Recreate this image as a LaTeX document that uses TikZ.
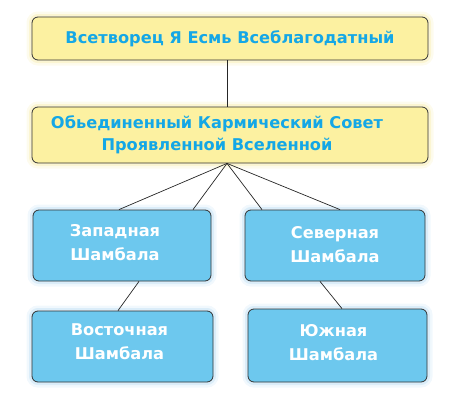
\documentclass[tikz,border=0pt]{standalone}
\usepackage{fontspec}
\setmainfont{DejaVu Sans}
\definecolor{boxyellow}{HTML}{FCF1A1}
\definecolor{glowyellow}{HTML}{F2DE6E}
\definecolor{boxblue}{HTML}{6DC8EE}
\definecolor{glowblue}{HTML}{8CC6EC}
\definecolor{titleblue}{HTML}{14A7E6}
\begin{document}
\begin{tikzpicture}[x=1pt,y=-1pt,
  box/.style={draw=black!80, line width=0.8pt, rounded corners=6pt, inner sep=0pt,
    preaction={draw=#1, line width=11pt, opacity=0.12},
    preaction={draw=#1, line width=6pt, opacity=0.22}},
  ybox/.style={box=glowyellow, fill=boxyellow},
  bbox/.style={box=glowblue, fill=boxblue},
  ytext/.style={text=titleblue, font=\bfseries\fontsize{16.2}{22}\selectfont, align=center},
  btext/.style={text=white, font=\bfseries\fontsize{16.2}{24}\selectfont, align=center},
  link/.style={black!85, line width=0.7pt}]

\useasboundingbox (0,0) rectangle (456,415);

\node[ybox, minimum width=396, minimum height=43] (creator) at (230,38.5) {};
\node[ybox, minimum width=396, minimum height=56] (council) at (230,135) {};
\node[bbox, minimum width=178, minimum height=71] (zapad) at (122,245.5) {};
\node[bbox, minimum width=180, minimum height=71] (sever) at (335,245.5) {};
\node[bbox, minimum width=181, minimum height=71] (vostok) at (122.5,346.5) {};
\node[bbox, minimum width=179, minimum height=73] (yug) at (337.5,345.5) {};

\node[ytext] (creatortxt) at (creator.center) {Всетворец Я Есмь Всеблагодатный};
\node[ytext] (counciltxt) at ([xshift=-13]council.center) {Обьединенный Кармический Совет\\Проявленной Вселенной};
\node[btext] (zapadtxt) at ([xshift=-7,yshift=3]zapad.center) {Западная\\Шамбала};
\node[btext] (severtxt) at ([yshift=1]sever.center) {Северная\\Шамбала};
\node[btext] (vostoktxt) at ([xshift=-3,yshift=5]vostok.center) {Восточная\\Шамбала};
\node[btext] (yugtxt) at ([xshift=-4,yshift=3]yug.center) {Южная\\Шамбала};

\draw[link] ([xshift=-3]creator.south) -- ([xshift=-3]council.north);
\foreach \tgt/\dx in {zapad/-3, zapad/71, sever/-73, sever/5}
  \draw[link] ([xshift=-3]council.south) -- ([xshift=\dx]\tgt.north);
\draw[link] ([xshift=17]zapad.south) -- ([xshift=-4.5]vostok.north);
\draw[link] ([xshift=-15]sever.south) -- ([xshift=4.5]yug.north);
\end{tikzpicture}
\end{document}
